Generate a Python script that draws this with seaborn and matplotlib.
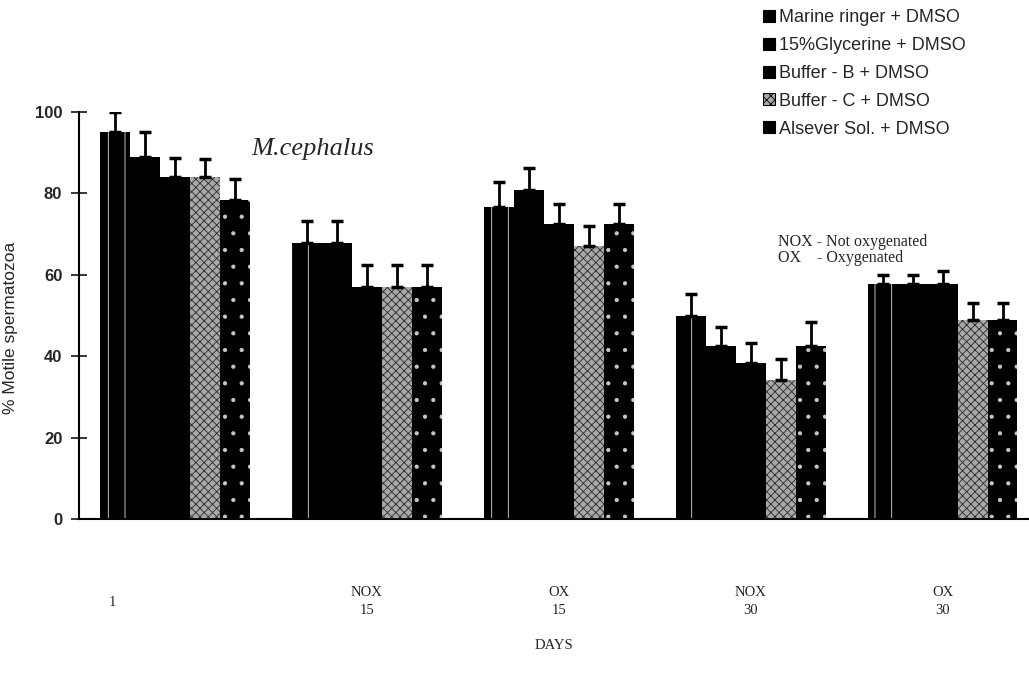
import pandas as pd
import matplotlib
matplotlib.use('Agg')
import matplotlib.pyplot as plt
import matplotlib.transforms as mtransforms
from matplotlib.patches import Patch
import seaborn as sns

# data
days = ['1', 'NOX\n15', 'OX\n15', 'NOX\n30', 'OX\n30']
media = ['Marine ringer + DMSO', '15%Glycerine + DMSO', 'Buffer - B + DMSO',
         'Buffer - C + DMSO', 'Alsever Sol. + DMSO']
marine = [95, 67.7, 76.6, 50, 57.7]
glycerine = [89, 67.7, 80.8, 42.6, 57.7]
buffer_b = [84, 57, 72.5, 38.3, 57.7]
buffer_c = [84, 57, 67.2, 34.2, 49]
alsever = [78.5, 57, 72.4, 42.6, 49]
marine_err = [5, 5.6, 6.1, 5.4, 2.3]
glycerine_err = [6, 5.6, 5.5, 4.7, 2.3]
buffer_b_err = [4.7, 5.4, 4.9, 4.9, 3.3]
buffer_c_err = [4.5, 5.4, 4.9, 5, 4.2]
alsever_err = [5, 5.4, 5, 5.7, 4.2]

values = [marine, glycerine, buffer_b, buffer_c, alsever]
errors = [marine_err, glycerine_err, buffer_b_err, buffer_c_err, alsever_err]

rows = []
for m, vals in zip(media, values):
    for d, v in zip(days, vals):
        rows.append({'day': d, 'medium': m, 'motile': v})
df = pd.DataFrame(rows)

sns.set_style('white')
plt.rcParams['font.family'] = ['Liberation Sans', 'DejaVu Sans']
plt.rcParams['hatch.linewidth'] = 0.6

fig = plt.figure(figsize=(10.29, 6.79), dpi=100)
ax = fig.add_axes([0.0768, 0.2356, 0.9232, 0.5994])

sns.barplot(data=df, x='day', y='motile', hue='medium', hue_order=media,
            order=days, palette=['black'] * 5, width=0.78, errorbar=None,
            saturation=1, ax=ax)
if ax.get_legend() is not None:
    ax.get_legend().remove()

# fill styles for each medium
styles = [
    dict(facecolor='black', hatch='|', hcol='#e0e0e0'),
    dict(facecolor='black', hatch=None, hcol='black'),
    dict(facecolor='black', hatch=None, hcol='black'),
    dict(facecolor='#a8a8a8', hatch='xxxx', hcol='#2a2a2a'),
    dict(facecolor='black', hatch='.', hcol='#c8c8c8'),
]
for cont, st, errs in zip(ax.containers, styles, errors):
    for bar, e in zip(cont.patches, errs):
        bar.set_facecolor(st['facecolor'])
        bar.set_edgecolor(st['hcol'])
        bar.set_linewidth(0)
        if st['hatch']:
            bar.set_hatch(st['hatch'])
        x = bar.get_x() + bar.get_width() / 2
        h = bar.get_height()
        ax.errorbar(x, h, yerr=[[0], [e]], fmt='none', ecolor='black',
                    elinewidth=2, capsize=4.5, capthick=2.5, zorder=3)

ax.set_ylim(0, 100)
ax.set_xlim(-0.5, 4.45)
ax.set_yticks([0, 20, 40, 60, 80, 100])
ax.tick_params(axis='y', direction='inout', length=12, width=1.3,
               labelsize=12, left=True, pad=6)
for lab in ax.get_yticklabels():
    lab.set_fontweight('bold')
ax.tick_params(axis='x', length=0, pad=48)
ax.set_xticks(range(len(days)))
ax.set_xticklabels(days, family='Liberation Serif', fontsize=10.5,
                   linespacing=1.5)
first = ax.get_xticklabels()[0]
first.set_transform(first.get_transform() +
                    mtransforms.ScaledTranslation(-0.63, -0.1, fig.dpi_scale_trans))

ax.set_xlabel('DAYS', family='Liberation Serif', fontsize=10.5, labelpad=16)
ax.set_ylabel('% Motile spermatozoa', fontsize=12.5)
ax.yaxis.set_label_coords(-0.064, 0.47)

for side in ['top', 'right']:
    ax.spines[side].set_visible(False)
for side in ['left', 'bottom']:
    ax.spines[side].set_color('black')
    ax.spines[side].set_linewidth(1.5)

ax.text(0.4, 91, 'M.cephalus', family='Liberation Serif', style='italic',
        fontsize=19, va='center', ha='left')
ax.text(3.14, 66, 'NOX - Not oxygenated\nOX    - Oxygenated',
        family='Liberation Serif', fontsize=11.5, va='center', ha='left',
        linespacing=1.0)

handles = [Patch(facecolor=st['facecolor'], edgecolor='black', hatch=st['hatch'],
                 linewidth=0.8) for st in styles]
fig.legend(handles, media, loc='upper left', bbox_to_anchor=(0.729, 1.005),
           frameon=False, fontsize=13, handlelength=0.65, handleheight=0.65,
           handletextpad=0.25, labelspacing=0.6, borderaxespad=0.3)

fig.savefig('out.png', dpi=100)
